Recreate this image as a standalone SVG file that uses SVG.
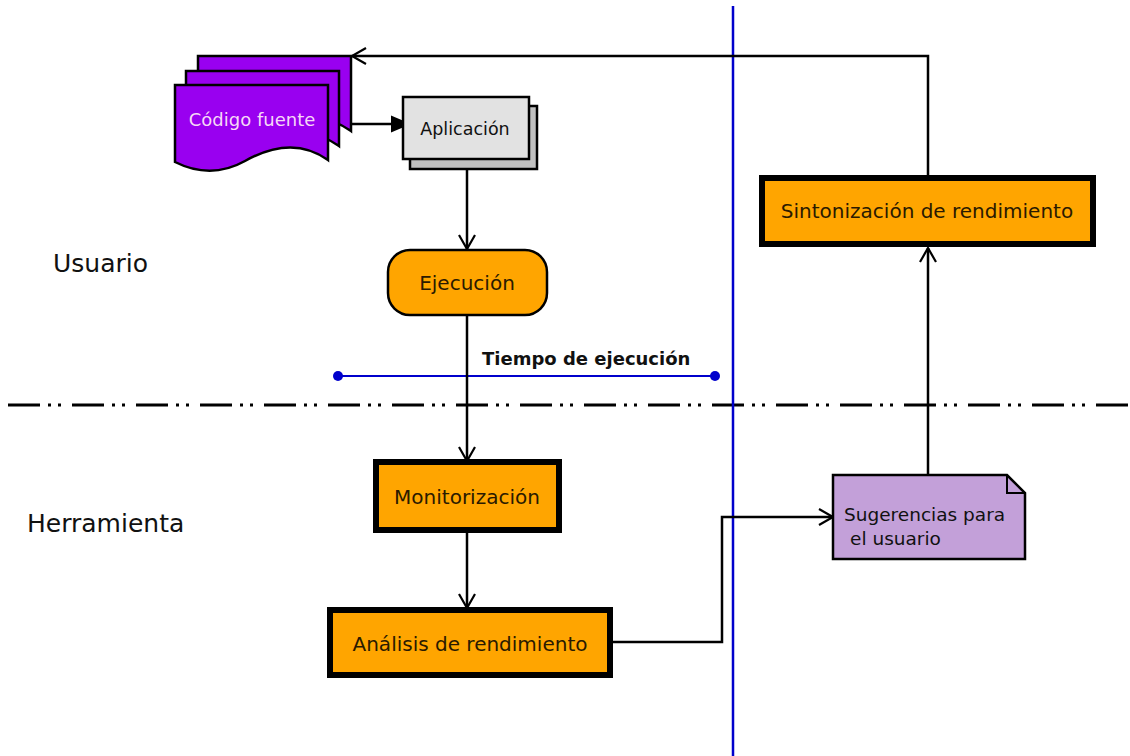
<svg xmlns="http://www.w3.org/2000/svg" width="1130" height="756" viewBox="0 0 1130 756">
  <style>
    .lbl { font-family: "DejaVu Sans", Verdana, sans-serif; fill: #111; }
    .lane { font-size: 25px; }
    .node { font-size: 20px; text-anchor: middle; fill: #2a1a00; }
    .wire { fill: none; stroke: #000; stroke-width: 2.5; }
    .orange { fill: #ffa500; stroke: #000; }
    .thick { stroke-width: 6; }
    .doc { fill: #9900f0; stroke: #000; stroke-width: 2.5; }
  </style>
  <defs>
    <marker id="open" markerUnits="userSpaceOnUse" markerWidth="18" markerHeight="20" viewBox="0 0 18 20" refX="15" refY="9" orient="auto">
      <path d="M1,1 L15,9 L1,17" fill="none" stroke="#000" stroke-width="2.2"/>
    </marker>
    <marker id="solid" markerUnits="userSpaceOnUse" markerWidth="22" markerHeight="20" viewBox="0 0 22 20" refX="20" refY="9" orient="auto">
      <path d="M0,0.5 L20,9 L0,17.5 Z" fill="#000"/>
    </marker>
    <path id="docShape" d="M0,0 H153 V75 C125,55 95,62 70,76 C45,90 22,88 0,77 Z"/>
  </defs>

  <rect width="1130" height="756" fill="#fff"/>

  <!-- swim lane labels -->
  <text class="lbl lane" x="53" y="272">Usuario</text>
  <text class="lbl lane" x="27" y="532">Herramienta</text>

  <!-- lane separator and time line -->
  <g id="separators">
    <line x1="8" y1="405" x2="1128" y2="405" stroke="#000" stroke-width="3" stroke-dasharray="32 8 3 7 3 11"/>
    <line x1="733" y1="6" x2="733" y2="756" stroke="#0000cc" stroke-width="2.5"/>
  </g>

  <g id="runtime">
    <line x1="338" y1="376" x2="715" y2="376" stroke="#0000cc" stroke-width="2.2"/>
    <circle cx="338" cy="376" r="5" fill="#0000cc"/>
    <circle cx="715" cy="376" r="5" fill="#0000cc"/>
    <text class="lbl" x="482" y="365" font-size="18" font-weight="bold">Tiempo de ejecución</text>
  </g>

  <!-- connectors -->
  <g id="connectors">
    <path class="wire" d="M928,175 V56 H352" marker-end="url(#open)"/>
    <path class="wire" d="M338,124 H411" marker-end="url(#solid)"/>
    <path class="wire" d="M467,160 V249" marker-end="url(#open)"/>
    <path class="wire" d="M467,316 V461" marker-end="url(#open)"/>
    <path class="wire" d="M467,533 V608" marker-end="url(#open)"/>
    <path class="wire" d="M613,642 H722 V517 H833" marker-end="url(#open)"/>
    <path class="wire" d="M928,475 V248" marker-end="url(#open)"/>
  </g>

  <g id="codigo-fuente">
    <use href="#docShape" class="doc" transform="translate(198,56)"/>
    <use href="#docShape" class="doc" transform="translate(186,71)"/>
    <use href="#docShape" class="doc" transform="translate(175,85)"/>
    <text class="lbl" x="252" y="126" font-size="18" text-anchor="middle" style="fill:#f6d8f6">Código fuente</text>
  </g>

  <g id="aplicacion">
    <rect x="410" y="106" width="127" height="63" fill="#c0c0c0" stroke="#000" stroke-width="2.5"/>
    <rect x="403" y="97" width="126" height="62" fill="#e2e2e2" stroke="#000" stroke-width="2.5"/>
    <text class="lbl" x="465" y="135" font-size="17.5" text-anchor="middle">Aplicación</text>
  </g>

  <g id="ejecucion">
    <rect x="388" y="250" width="159" height="65" rx="22" ry="22" class="orange" stroke-width="2.5"/>
    <text class="lbl node" x="467" y="290" font-size="19">Ejecución</text>
  </g>

  <g id="monitorizacion">
    <rect x="376" y="462" width="183" height="68" class="orange thick"/>
    <text class="lbl node" x="467" y="504">Monitorización</text>
  </g>

  <g id="analisis">
    <rect x="330" y="610" width="280" height="65" class="orange thick"/>
    <text class="lbl node" x="470" y="651">Análisis de rendimiento</text>
  </g>

  <g id="sintonizacion">
    <rect x="762" y="178" width="331" height="66" class="orange thick"/>
    <text class="lbl node" x="927" y="218">Sintonización de rendimiento</text>
  </g>

  <g id="sugerencias">
    <path d="M833,475 H1007 L1025,493 V559 H833 Z" fill="#c3a0d9" stroke="#000" stroke-width="2.5"/>
    <path d="M1007,475 V493 H1025" fill="none" stroke="#000" stroke-width="2"/>
    <text class="lbl" x="844" y="521" font-size="18.5">Sugerencias para</text>
    <text class="lbl" x="850" y="545" font-size="18.5">el usuario</text>
  </g>
</svg>
